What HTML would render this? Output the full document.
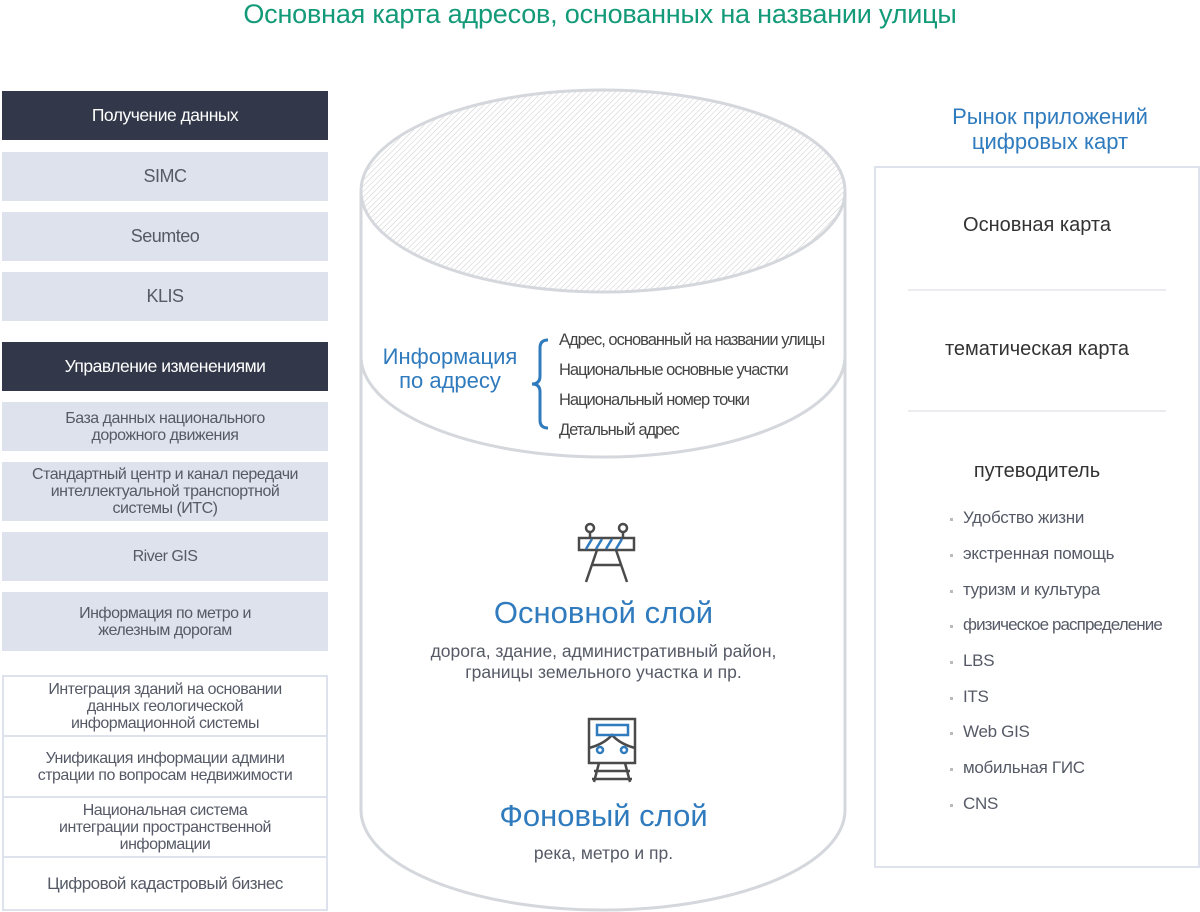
<!DOCTYPE html>
<html><head><meta charset="utf-8"><style>
body{margin:0;width:1200px;height:912px;background:#fff;position:relative;overflow:hidden;font-family:"Liberation Sans","DejaVu Sans",sans-serif;}
.a{position:absolute;}
.t{position:absolute;left:0;width:1200px;top:-1px;text-align:center;color:#139a78;font-size:27px;letter-spacing:-0.2px;}
.bx{position:absolute;left:2px;width:326px;display:flex;align-items:center;justify-content:center;text-align:center;color:#555a66;font-size:16px;line-height:17px;letter-spacing:-0.5px;}
.dk{background:#323849;color:#fff;font-size:17.5px;}
.lt{background:#dde2ec;}
.ln{background:#fff;border:2px solid #dde2ec;box-sizing:border-box;}
.rt{position:absolute;left:874px;width:326px;text-align:center;color:#333;font-size:20px;}
.li{position:absolute;left:963px;color:#555a66;font-size:17px;letter-spacing:-0.3px;}
.li:before{content:"";position:absolute;left:-13px;top:10px;width:3px;height:3px;background:#bbb;}
</style></head><body>
<div class="t">Основная карта адресов, основанных на названии улицы</div>

<div class="bx dk" style="top:91px;height:49px">Получение данных</div>
<div class="bx lt" style="top:152px;height:49px;font-size:18px">SIMC</div>
<div class="bx lt" style="top:212px;height:49px;font-size:18px">Seumteo</div>
<div class="bx lt" style="top:272px;height:49px;font-size:18px">KLIS</div>
<div class="bx dk" style="top:342px;height:49px">Управление изменениями</div>
<div class="bx lt" style="top:402px;height:49px">База данных национального<br>дорожного движения</div>
<div class="bx lt" style="top:462px;height:59px">Стандартный центр и канал передачи<br>интеллектуальной транспортной<br>системы (ИТС)</div>
<div class="bx lt" style="top:532px;height:49px">River GIS</div>
<div class="bx lt" style="top:592px;height:59px">Информация по метро и<br>железным дорогам</div>
<div class="bx ln" style="top:675px;height:62px">Интеграция зданий на основании<br>данных геологической<br>информационной системы</div>
<div class="bx ln" style="top:735px;height:63px">Унификация информации админи<br>страции по вопросам недвижимости</div>
<div class="bx ln" style="top:796px;height:62px">Национальная система<br>интеграции пространственной<br>информации</div>
<div class="bx ln" style="top:856px;height:55px;font-size:17px">Цифровой кадастровый бизнес</div>

<svg class="a" style="left:0;top:0" width="1200" height="912">
<defs><pattern id="h" width="4" height="4" patternUnits="userSpaceOnUse" patternTransform="rotate(45)"><line x1="0" y1="0" x2="0" y2="4" stroke="#ccc" stroke-width="1"/></pattern></defs>
<path d="M361,191 L361,810 A242,100 0 0 0 845,810 L845,191" fill="#fff" stroke="#d4d7dc" stroke-width="3"/>
<path d="M361,356 A242,101 0 0 0 845,356" fill="none" stroke="#d4d7dc" stroke-width="3"/>
<ellipse cx="603" cy="191" rx="242" ry="101" fill="url(#h)" stroke="#d4d7dc" stroke-width="3"/>
<path d="M548,340 q-8,0 -8,8 v28 q0,8 -8,8 q8,0 8,8 v28 q0,8 8,8" fill="none" stroke="#2f7bbd" stroke-width="3"/>
<g stroke="#4a4a4a" stroke-width="2.5" fill="none">
<circle cx="590" cy="528" r="4"/><circle cx="623" cy="528" r="4"/>
<line x1="590" y1="532" x2="590" y2="538"/><line x1="623" y1="532" x2="623" y2="538"/>
<rect x="579" y="538" width="55" height="12"/>
<line x1="597" y1="550" x2="586" y2="582"/><line x1="616" y1="550" x2="627" y2="582"/>
<line x1="592" y1="565" x2="621" y2="565"/>
</g>
<g stroke="#2f7bbd" stroke-width="2.5"><line x1="586" y1="549" x2="592" y2="539"/><line x1="596" y1="549" x2="602" y2="539"/><line x1="606" y1="549" x2="612" y2="539"/><line x1="616" y1="549" x2="622" y2="539"/></g>
<g stroke="#4a4a4a" stroke-width="2.5" fill="none">
<rect x="589" y="719" width="46" height="44"/>
<path d="M589,748 Q604,744 612,735 Q620,744 635,748"/>
<line x1="599" y1="763" x2="594" y2="782"/><line x1="625" y1="763" x2="630" y2="782"/>
<line x1="594" y1="771" x2="630" y2="771"/><line x1="592" y1="779" x2="632" y2="779"/>
</g>
<g stroke="#2f7bbd" stroke-width="2.5" fill="none"><rect x="597" y="725" width="31" height="10"/><circle cx="600" cy="750" r="3"/><circle cx="624" cy="750" r="3"/></g>
<rect x="875" y="167" width="324" height="700" fill="none" stroke="#dde2ec" stroke-width="2"/>
<line x1="908" y1="290" x2="1166" y2="290" stroke="#e3e6ea" stroke-width="1.5"/>
<line x1="908" y1="411" x2="1166" y2="411" stroke="#e3e6ea" stroke-width="1.5"/>
</svg>

<div class="a" style="left:368px;top:345px;width:164px;text-align:center;color:#2f7bbd;font-size:22px;line-height:24px">Информация<br>по адресу</div>
<div class="a" style="left:559px;top:325px;color:#444;font-size:16.5px;line-height:30px;letter-spacing:-1px">Адрес, основанный на названии улицы<br>Национальные основные участки<br>Национальный номер точки<br>Детальный адрес</div>
<div class="a" style="left:361px;width:485px;top:595px;text-align:center;color:#2f7bbd;font-size:31px">Основной слой</div>
<div class="a" style="left:361px;width:485px;top:641px;text-align:center;color:#555a66;font-size:17.5px;line-height:21px">дорога, здание, административный район,<br>границы земельного участка и пр.</div>
<div class="a" style="left:361px;width:485px;top:798px;text-align:center;color:#2f7bbd;font-size:31px">Фоновый слой</div>
<div class="a" style="left:361px;width:485px;top:843px;text-align:center;color:#555a66;font-size:17.5px">река, метро и пр.</div>

<div class="a" style="left:874px;width:352px;top:104px;text-align:center;color:#2f7bbd;font-size:22px;line-height:25px">Рынок приложений<br>цифровых карт</div>
<div class="rt" style="top:214px">Основная карта</div>
<div class="rt" style="top:338px">тематическая карта</div>
<div class="rt" style="top:460px">путеводитель</div>
<div class="li" style="top:508px">Удобство жизни</div>
<div class="li" style="top:544px">экстренная помощь</div>
<div class="li" style="top:580px">туризм и культура</div>
<div class="li" style="top:615px;letter-spacing:-0.9px">физическое распределение</div>
<div class="li" style="top:651px">LBS</div>
<div class="li" style="top:687px">ITS</div>
<div class="li" style="top:722px">Web GIS</div>
<div class="li" style="top:758px">мобильная ГИС</div>
<div class="li" style="top:794px">CNS</div>
</body></html>
